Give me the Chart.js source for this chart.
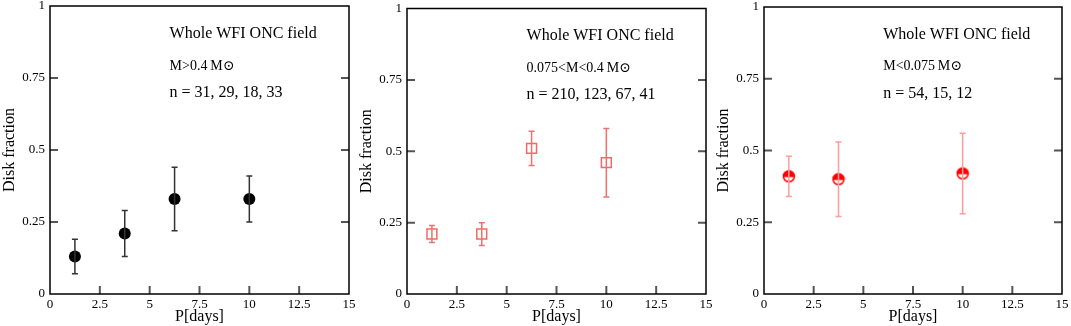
<!DOCTYPE html>
<html><head><meta charset="utf-8">
<script src="https://cdn.jsdelivr.net/npm/chart.js@4.4.0/dist/chart.umd.min.js"></script>
<style>
html,body{margin:0;padding:0;background:#fff;width:1071px;height:326px;overflow:hidden}
.p{position:absolute;top:0;height:326px}
</style></head><body>
<div class="p" style="left:0;width:360px"><canvas id="c1"></canvas></div>
<div class="p" style="left:357px;width:360px"><canvas id="c2"></canvas></div>
<div class="p" style="left:714px;width:357px"><canvas id="c3"></canvas></div>
<script>
// ---- data ----
const xTicks = [0, 2.5, 5, 7.5, 10, 12.5, 15];
const yTicks = [0, 0.25, 0.5, 0.75, 1];
const xTickLabels = ['0', '2.5', '5', '7.5', '10', '12.5', '15'];
const yTickLabels = ['0', '0.25', '0.5', '0.75', '1'];

const p1X = [1.25, 3.75, 6.25, 10];
const p1Y = [0.13, 0.21, 0.33, 0.33];
const p1Lo = [0.07, 0.13, 0.22, 0.25];
const p1Hi = [0.19, 0.29, 0.44, 0.41];

const p2X = [1.25, 3.75, 6.25, 10];
const p2Y = [0.21, 0.21, 0.51, 0.46];
const p2Lo = [0.18, 0.17, 0.45, 0.34];
const p2Hi = [0.24, 0.25, 0.57, 0.58];

const p3X = [1.25, 3.75, 10];
const p3Y = [0.41, 0.40, 0.42];
const p3Lo = [0.34, 0.27, 0.28];
const p3Hi = [0.48, 0.53, 0.56];

const title = 'Whole WFI ONC field';
const massLabels = ['M>0.4\u2009M\u2299', '0.075<M<0.4\u2009M\u2299', 'M<0.075\u2009M\u2299'];
const countLabels = ['n = 31, 29, 18, 33', 'n = 210, 123, 67, 41', 'n = 54, 15, 12'];
const xTitle = 'P[days]';
const yTitle = 'Disk fraction';

const SERIF = "'Liberation Serif','DejaVu Serif',serif";

// half-filled circle marker
function halfCircle(){
  const c = document.createElement('canvas');
  c.width = 14; c.height = 14;
  const g = c.getContext('2d');
  const r = 5.5;
  g.beginPath(); g.arc(7,7,r,0,2*Math.PI); g.fillStyle='#fff'; g.fill();
  g.beginPath(); g.arc(7,7,r,Math.PI,2*Math.PI); g.closePath(); g.fillStyle='#ff0000'; g.fill();
  g.beginPath(); g.arc(7,7,r,0,2*Math.PI); g.strokeStyle='#ff0000'; g.lineWidth=1.5; g.stroke();
  g.beginPath(); g.moveTo(1.5,7); g.lineTo(12.5,7); g.stroke();
  return c;
}

const framePlugin = {
  id: 'frame',
  afterDatasetsDraw(chart, args, opts){
    const ctx = chart.ctx, a = chart.chartArea, xs = chart.scales.x, ys = chart.scales.y;
    ctx.save();
    // error bars
    const e = opts;
    ctx.strokeStyle = e.color; ctx.lineWidth = e.width;
    e.xs.forEach((xv, i) => {
      const px = xs.getPixelForValue(xv);
      const pl = ys.getPixelForValue(e.lo[i]), ph = ys.getPixelForValue(e.hi[i]);
      ctx.beginPath();
      ctx.moveTo(px, pl); ctx.lineTo(px, ph);
      ctx.moveTo(px - e.cap, pl); ctx.lineTo(px + e.cap, pl);
      ctx.moveTo(px - e.cap, ph); ctx.lineTo(px + e.cap, ph);
      ctx.stroke();
    });
    // ticks
    ctx.strokeStyle = '#555'; ctx.lineWidth = 2;
    yTicks.slice(1, -1).forEach(v => {
      const py = ys.getPixelForValue(v);
      ctx.beginPath();
      ctx.moveTo(a.left, py); ctx.lineTo(a.left + 8, py);
      ctx.moveTo(a.right, py); ctx.lineTo(a.right - 8, py);
      ctx.stroke();
    });
    xTicks.slice(1, -1).forEach(v => {
      const px = xs.getPixelForValue(v);
      ctx.beginPath();
      ctx.moveTo(px, a.bottom); ctx.lineTo(px, a.bottom - 8);
      ctx.stroke();
    });
    // frame
    ctx.strokeStyle = '#000'; ctx.lineWidth = 1.5;
    ctx.strokeRect(a.left, a.top, a.right - a.left, a.bottom - a.top);
    // annotations
    ctx.fillStyle = '#000'; ctx.textBaseline = 'middle'; ctx.textAlign = 'left';
    const tx = xs.getPixelForValue(6);
    ctx.font = '16px ' + SERIF;
    ctx.fillText(title, tx, ys.getPixelForValue(0.903));
    ctx.font = '14px ' + SERIF;
    ctx.fillText(e.mass, tx, ys.getPixelForValue(0.792));
    ctx.font = '16px ' + SERIF;
    ctx.fillText(e.count, tx, ys.getPixelForValue(0.699));
    ctx.restore();
  }
};

function makeChart(id, xsArr, ysArr, lo, hi, ds, errColor, errWidth, padRight, idx){
  const data = xsArr.map((x, i) => ({x: x, y: ysArr[i]}));
  return new Chart(document.getElementById(id), {
    type: 'scatter',
    data: { datasets: [Object.assign({ data: data }, ds)] },
    plugins: [framePlugin],
    options: {
      responsive: true, maintainAspectRatio: false, animation: false,
      layout: { padding: { top: 5, right: padRight, left: 0, bottom: 0 } },
      plugins: {
        legend: { display: false }, tooltip: { enabled: false },
        frame: { xs: xsArr, lo: lo, hi: hi, color: errColor, width: errWidth, cap: 3,
                 mass: massLabels[idx], count: countLabels[idx] }
      },
      scales: {
        x: {
          type: 'linear', min: 0, max: 15,
          afterBuildTicks: s => { s.ticks = xTicks.map(v => ({value: v})); },
          afterFit: s => { s.height = 32; s.paddingLeft = 0; s.paddingRight = 0; },
          grid: { display: false, drawTicks: false }, border: { display: false },
          ticks: { autoSkip: false, maxRotation: 0, padding: 3, color: '#000',
                   font: { family: SERIF, size: 13 },
                   callback: (v) => xTickLabels[xTicks.indexOf(v)] },
          title: { display: true, text: xTitle, color: '#000', padding: {top: 0, bottom: 0},
                   font: { family: SERIF, size: 16 } }
        },
        y: {
          type: 'linear', min: 0, max: 1,
          afterBuildTicks: s => { s.ticks = yTicks.map(v => ({value: v})); },
          afterFit: s => { s.width = 50; s.paddingTop = 0; s.paddingBottom = 0; },
          grid: { display: false, drawTicks: false }, border: { display: false },
          ticks: { autoSkip: false, padding: 5, color: '#000',
                   font: { family: SERIF, size: 13 },
                   callback: (v) => yTickLabels[yTicks.indexOf(v)] },
          title: { display: true, text: yTitle, color: '#000', padding: {top: 0, bottom: 0},
                   font: { family: SERIF, size: 16 } }
        }
      }
    }
  });
}

makeChart('c1', p1X, p1Y, p1Lo, p1Hi,
  { pointStyle: 'circle', pointRadius: 6, backgroundColor: '#000', borderColor: '#000', borderWidth: 0 },
  '#333', 1.5, 11, 0);
makeChart('c2', p2X, p2Y, p2Lo, p2Hi,
  { pointStyle: 'rect', pointRadius: 7, backgroundColor: 'rgba(0,0,0,0)', borderColor: '#f26868', borderWidth: 1.5 },
  '#f07070', 1.5, 11, 1);
makeChart('c3', p3X, p3Y, p3Lo, p3Hi,
  { pointStyle: halfCircle(), pointRadius: 6 },
  '#ff9c9c', 1.5, 9, 2);
</script>
</body></html>
